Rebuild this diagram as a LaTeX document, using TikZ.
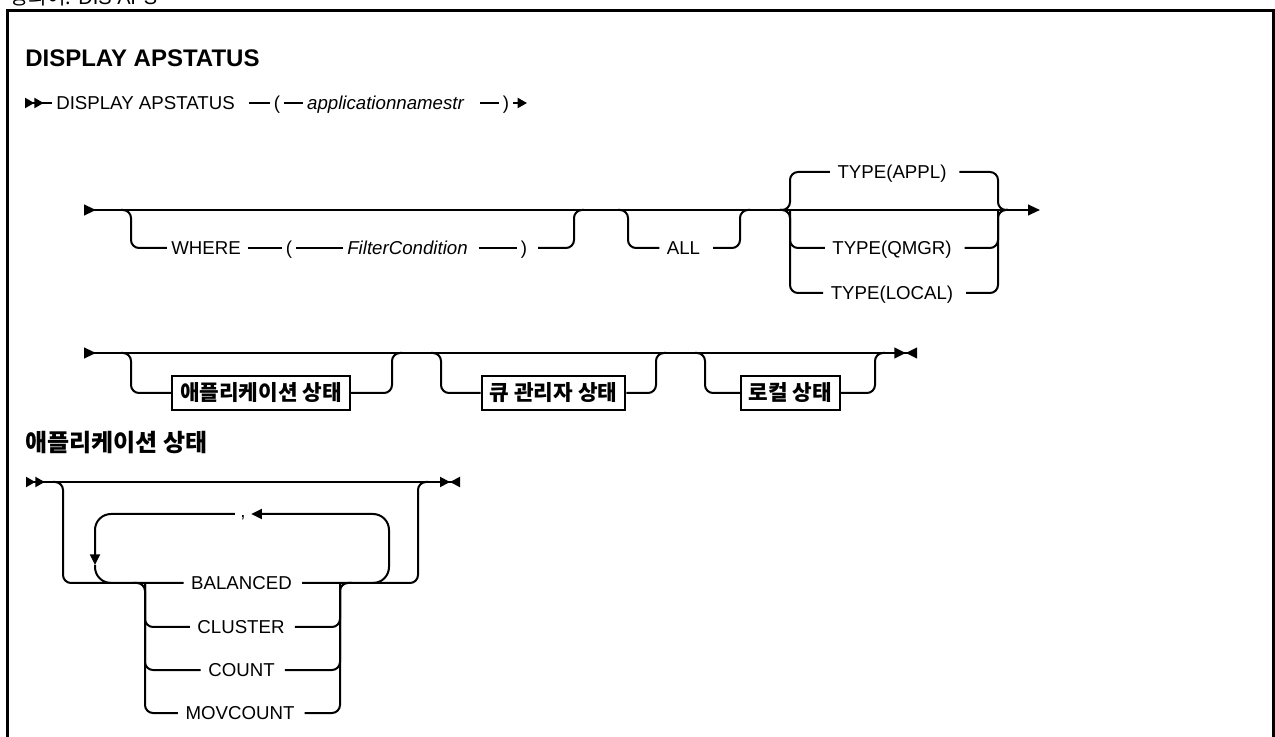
\documentclass[tikz,border=0pt]{standalone}
\usepackage{fontspec}
\setmainfont{Liberation Sans}
\newfontfamily\krfont{Noto Sans CJK KR}
\usetikzlibrary{arrows.meta,positioning,calc}

\begin{document}
\begin{tikzpicture}[
    x=0.75pt, y=-0.75pt,
    font=\fontsize{14}{16}\selectfont,
    rail/.style={line width=1.5pt, rounded corners=6pt},
    rep/.style={line width=1.5pt, rounded corners=12pt},
    kw/.style={inner xsep=3pt, inner ysep=0pt, text height=10pt, text depth=0pt},
    choice/.style={kw, inner xsep=5.5pt},
    var/.style={kw, font=\fontsize{14}{16}\selectfont\itshape},
    commanode/.style={inner xsep=4pt, inner ysep=0pt, text height=6pt, text depth=0pt},
    ref/.style={draw, line width=1.5pt, inner xsep=6pt, inner ysep=0pt,
      minimum height=26pt, text height=13pt, text depth=1pt,
      font=\krfont\fontsize{16}{18}\selectfont\bfseries},
    tailgap/.style={shorten <=#1},
    outline/.style={line width=2.25pt},
    rowb/.style={{Triangle[reversed,length=9pt,width=8pt]}-{Triangle[length=9pt,width=8pt]}},
    rowc/.style={{Triangle[reversed,length=9pt,width=8pt]}-{Triangle[length=8.5pt,width=8pt]Triangle[reversed,length=8.5pt,width=8pt]}},
    rowd/.style={{Triangle[reversed,length=7pt,width=7.5pt]Triangle[reversed,length=7pt,width=7.5pt]}-{Triangle[length=7.5pt,width=7.5pt]Triangle[reversed,length=7.5pt,width=7.5pt]}},
    back/.style={-{Triangle[length=8pt,width=7.5pt]}}
  ]
    \useasboundingbox (0,0) rectangle (1275,737);
    \draw[outline] (7.7,745) |- (1273.5,10.7) -- (1273.5,745);
    \node[anchor=base west, inner sep=0pt, font=\fontsize{15}{17}\selectfont] (cap) at (10,5) {{\krfont 동의어:} DIS APS};
    \node[anchor=west, inner sep=0pt, font=\bfseries\fontsize{18}{20}\selectfont] (ttl) at (25,58.5) {DISPLAY APSTATUS};

    % first line
    \coordinate (r1beg) at (25,103);
    \coordinate (r1end) at (527,103);
    \node[kw] (dsp) at (145.5,103) {DISPLAY APSTATUS};
    \node[kw] (lpa) at (277,103) {(};
    \node[var] (app) at (385.5,103) {applicationnamestr};
    \node[kw] (rpa) at (506,103) {)};
    \draw[rail, {Triangle[reversed,length=7pt,width=7.5pt]Triangle[reversed,length=7pt,width=7.5pt]}-] (r1beg) -- (dsp);
    \draw[rail, tailgap=7.5pt] (dsp) -- (lpa);
    \draw[rail] (lpa) -- (app);
    \draw[rail, tailgap=9pt] (app) -- (rpa);
    \draw[rail, -{Triangle[length=7pt,width=7.5pt]}] (rpa) -- (r1end);

    % second line
    \coordinate (r2beg) at (84,210);
    \coordinate (r2end) at (1040,210);
    \coordinate (wa) at (131,210);
    \coordinate (wb) at (574,210);
    \coordinate (aa) at (628,210);
    \coordinate (ab) at (740,210);
    \coordinate (ta) at (790,210);
    \coordinate (tb) at (998,210);
    \node[kw] (whr) at (206,248) {WHERE};
    \node[kw] (lpb) at (289,248) {(};
    \node[var] (fcd) at (407.5,248) {FilterCondition};
    \node[kw] (rpb) at (524,248) {)};
    \node[choice] (all) at (683.5,248) {ALL};
    \node[choice] (apl) at (892,172) {TYPE(APPL)};
    \node[choice] (qmg) at (892,248) {TYPE(QMGR)};
    \node[choice] (loc) at (892,293) {TYPE(LOCAL)};
    \draw[rail, rowb] (r2beg) -- (r2end);
    \draw[rail] (whr) -| (wa) -- ++(-10,0);
    \draw[rail, tailgap=2pt] (whr) -- (lpb);
    \draw[rail] (lpb) -- (fcd);
    \draw[rail, tailgap=5pt] (fcd) -- (rpb);
    \draw[rail, tailgap=5pt] (rpb) -| (wb) -- ++(10,0);
    \draw[rail] (all) -| (aa) -- ++(-10,0);
    \draw[rail, tailgap=4pt] (all) -| (ab) -- ++(10,0);
    \draw[rail] (apl) -| (ta) -- ++(-10,0);
    \draw[rail] (loc) -| (ta) -- ++(-10,0);
    \draw[rail] (qmg) -| (ta);
    \draw[rail, tailgap=4pt] (apl) -| (tb) -- ++(10,0);
    \draw[rail, tailgap=4pt] (loc) -| (tb) -- ++(10,0);
    \draw[rail, tailgap=4pt] (qmg) -| (tb);

    % third line
    \coordinate (r3beg) at (84,353);
    \coordinate (r3end) at (917,353);
    \coordinate (ba1) at (131,353);
    \coordinate (ba2) at (392,353);
    \coordinate (bb1) at (441,353);
    \coordinate (bb2) at (656,353);
    \coordinate (bc1) at (705,353);
    \coordinate (bc2) at (875,353);
    \node[ref] (bxa) at (261,393) {애플리케이션 상태};
    \node[ref] (bxb) at (553.5,393) {큐 관리자 상태};
    \node[ref] (bxc) at (790.5,393) {로컬 상태};
    \draw[rail, rowc] (r3beg) -- (r3end);
    \draw[rail] (bxa) -| (ba1) -- ++(-10,0);
    \draw[rail] (bxa) -| (ba2) -- ++(10,0);
    \draw[rail] (bxb) -| (bb1) -- ++(-10,0);
    \draw[rail] (bxb) -| (bb2) -- ++(10,0);
    \draw[rail] (bxc) -| (bc1) -- ++(-10,0);
    \draw[rail] (bxc) -| (bc2) -- ++(10,0);

    % fragment
    \node[anchor=west, inner sep=0pt, font=\krfont\fontsize{18}{20}\selectfont\bfseries] (sub) at (25,443) {애플리케이션 상태};
    \coordinate (r4beg) at (26,482);
    \coordinate (r4end) at (460,482);
    \coordinate (oa) at (63,482);
    \coordinate (ob) at (418,482);
    \coordinate (ga) at (145,583);
    \coordinate (gb) at (340,583);
    \coordinate (la) at (95,583);
    \coordinate (lb) at (389,583);
    \coordinate (lc) at (95,565);
    \node[choice] (bal) at (241.5,583) {BALANCED};
    \node[choice] (clu) at (241,627) {CLUSTER};
    \node[choice] (cnt) at (241.5,670) {COUNT};
    \node[choice] (mov) at (240,713) {MOVCOUNT};
    \node[commanode] (cma) at (243,514) {,};
    \draw[rail, rowd] (r4beg) -- (r4end);
    \draw[rail] (bal) -| (oa) -- ++(-10,0);
    \draw[rail, tailgap=2pt] (bal) -| (ob) -- ++(10,0);
    \draw[rail] (mov) -| (ga) -- ++(-12,0);
    \draw[rail] (clu) -| (ga);
    \draw[rail] (cnt) -| (ga);
    \draw[rail, tailgap=2pt] (mov) -| (gb) -- ++(12,0);
    \draw[rail, tailgap=2pt] (clu) -| (gb);
    \draw[rail, tailgap=2pt] (cnt) -| (gb);
    \draw[rep, back] (lb) ++(-16,0) -- (lb) |- (cma);
    \draw[rep, back] (cma) -| (lc);
    \draw[rep] (lc) -- (la) -- ++(16,0);
  \end{tikzpicture}
\end{document}
